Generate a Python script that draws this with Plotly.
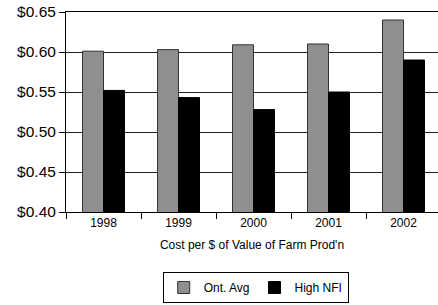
import plotly.graph_objects as go

years = ["1998", "1999", "2000", "2001", "2002"]
ont_avg = [0.601, 0.603, 0.609, 0.610, 0.640]
high_nfi = [0.552, 0.543, 0.528, 0.550, 0.590]
y_ticks = [0.40, 0.45, 0.50, 0.55, 0.60, 0.65]
y_tick_labels = ["$0.40", "$0.45", "$0.50", "$0.55", "$0.60", "$0.65"]

fig = go.Figure()
fig.add_bar(x=years, y=ont_avg, name="Ont. Avg",
            marker=dict(color="#8f8f8f", line=dict(color="#333333", width=1)))
fig.add_bar(x=years, y=high_nfi, name="High NFI",
            marker=dict(color="#000000", line=dict(color="#000000", width=1)))

fig.update_layout(
    width=438, height=305,
    margin=dict(l=66, r=0, t=12, b=93, autoexpand=False),
    paper_bgcolor="white", plot_bgcolor="white",
    barmode="group", bargap=0.44, bargroupgap=0,
    font=dict(family="Liberation Sans, Arial, sans-serif", color="black"),
    showlegend=True,
    legend=dict(orientation="h", x=0.51, xanchor="center", y=-0.3, yanchor="top",
                bordercolor="black", borderwidth=1, font=dict(size=12),
                itemwidth=30, tracegroupgap=0),
)
fig.update_xaxes(
    type="category", range=[-0.5, 4.46],
    showline=True, linecolor="black", linewidth=1, mirror=True,
    ticks="outside", tickson="boundaries", ticklen=6, tickcolor="black",
    tickfont=dict(size=12),
    title=dict(text="Cost per $ of Value of Farm Prod'n", font=dict(size=12), standoff=11),
    showgrid=False,
)
fig.update_yaxes(
    range=[0.40, 0.65], tickvals=y_ticks, ticktext=y_tick_labels,
    showline=True, linecolor="black", linewidth=1,
    ticks="outside", ticklen=6, tickcolor="black",
    tickfont=dict(size=15.5),
    showgrid=True, gridcolor="#222222", gridwidth=1,
    zeroline=False,
)

fig.write_html("out.html", post_script="document.body.style.margin='0';",
               config={"displayModeBar": False})
